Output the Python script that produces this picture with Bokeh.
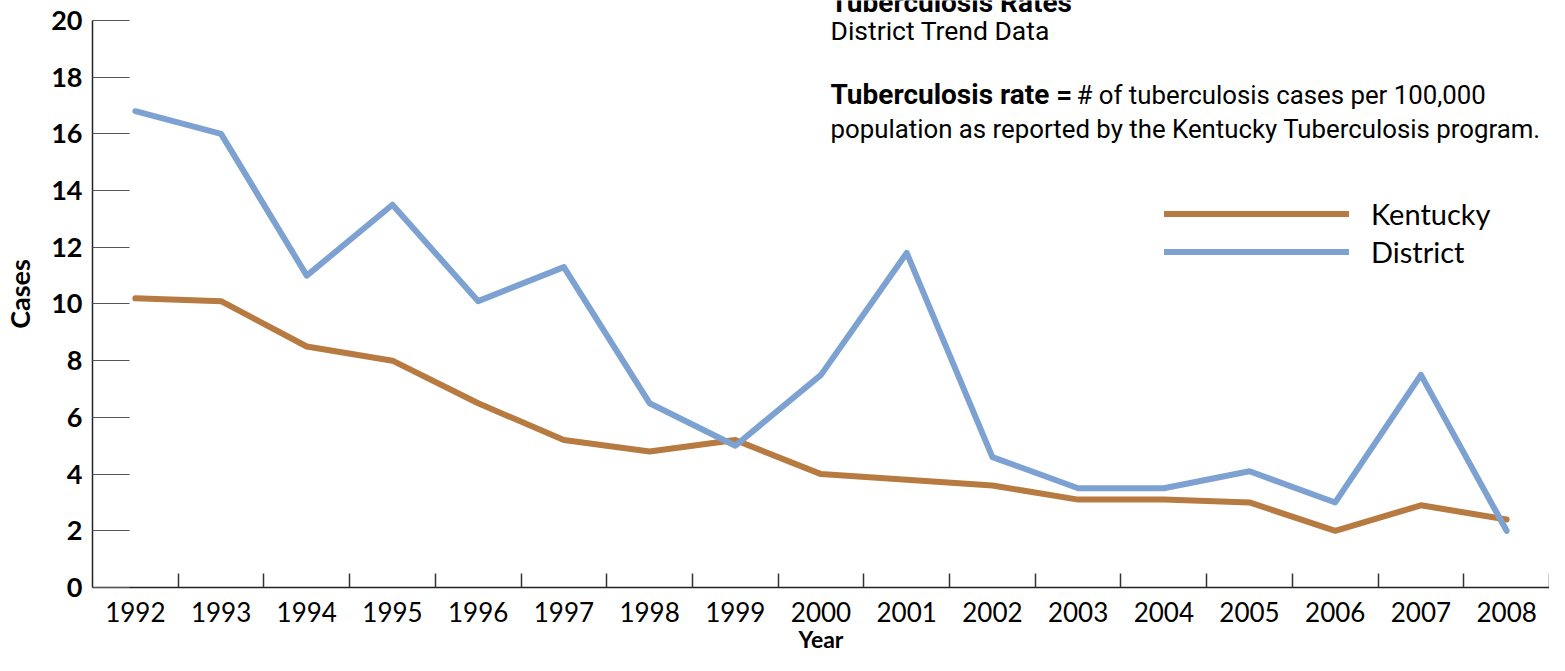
from bokeh.plotting import figure
from bokeh.models import (LinearAxis, FixedTicker, SingleIntervalTicker, Range1d,
                          Label, Legend, LegendItem, ColumnDataSource)
from bokeh.embed import file_html
from bokeh.resources import INLINE

years = ["1992", "1993", "1994", "1995", "1996", "1997", "1998", "1999", "2000",
         "2001", "2002", "2003", "2004", "2005", "2006", "2007", "2008"]
kentucky = [10.2, 10.1, 8.5, 8.0, 6.5, 5.2, 4.8, 5.2, 4.0, 3.8, 3.6, 3.1, 3.1, 3.0, 2.0, 2.9, 2.4]
district = [16.8, 16.0, 11.0, 13.5, 10.1, 11.3, 6.5, 5.0, 7.5, 11.8, 4.6, 3.5, 3.5, 4.1, 3.0, 7.5, 2.0]
y_max = 20

BROWN = "#B77B42"
BLUE = "#7DA2D2"
TICK_FONT = "Lato"
TEXT_FONT = "Roboto"

n = len(years)
xpos = [i + 0.5 for i in range(n)]
src = ColumnDataSource(dict(x=xpos, year=years, ky=kentucky, dist=district))

# frame spans the full top of the canvas so the header text is not clipped;
# the value axis itself stops at y_max (20 px below the canvas top)
H, TOP, BOTTOM = 655, 20, 67
plot_h = H - BOTTOM
y_end = y_max * plot_h / (plot_h - TOP)

p = figure(width=1549, height=H, output_backend="svg", toolbar_location=None,
           x_range=Range1d(0, n), y_range=Range1d(0, y_end),
           x_axis_type=None, y_axis_type=None,
           min_border_left=88, min_border_right=0, min_border_top=0, min_border_bottom=BOTTOM)
p.outline_line_color = None
p.grid.visible = False
p.background_fill_color = "white"

# X axis: labels at category centers, tick marks at category boundaries
xaxis = LinearAxis(ticker=FixedTicker(ticks=xpos, minor_ticks=list(range(1, n + 1))))
xaxis.major_label_overrides = {xv: y for xv, y in zip(xpos, years)}
xaxis.major_tick_line_color = None
xaxis.minor_tick_in = 14
xaxis.minor_tick_out = 0
xaxis.minor_tick_line_color = "#333333"
xaxis.minor_tick_line_width = 1.5
xaxis.axis_line_color = "#222222"
xaxis.axis_line_width = 1.5
xaxis.major_label_text_font = TICK_FONT
xaxis.major_label_text_font_size = "26px"
xaxis.major_label_text_color = "black"
xaxis.major_label_standoff = 8
xaxis.axis_label = "Year"
xaxis.axis_label_text_font = TICK_FONT
xaxis.axis_label_text_font_style = "bold"
xaxis.axis_label_text_font_size = "23px"
xaxis.axis_label_text_color = "black"
xaxis.axis_label_standoff = 0
p.add_layout(xaxis, "below")

# Y axis
yaxis = LinearAxis(ticker=SingleIntervalTicker(interval=2, num_minor_ticks=0), bounds=(0, y_max))
yaxis.major_tick_in = 37
yaxis.major_tick_out = 0
yaxis.major_tick_line_color = "#555555"
yaxis.major_tick_line_width = 1.2
yaxis.minor_tick_line_color = None
yaxis.axis_line_color = "#222222"
yaxis.axis_line_width = 1.5
yaxis.major_label_text_font = TICK_FONT
yaxis.major_label_text_font_style = "bold"
yaxis.major_label_text_font_size = "27px"
yaxis.major_label_text_color = "black"
yaxis.major_label_standoff = 10
yaxis.axis_label = "Cases"
yaxis.axis_label_text_font = TICK_FONT
yaxis.axis_label_text_font_style = "bold"
yaxis.axis_label_text_font_size = "27px"
yaxis.axis_label_text_color = "black"
yaxis.axis_label_standoff = 12
p.add_layout(yaxis, "left")

r_ky = p.line("x", "ky", source=src, line_color=BROWN, line_width=6,
              line_join="round", line_cap="round")
r_di = p.line("x", "dist", source=src, line_color=BLUE, line_width=6,
              line_join="round", line_cap="round")

legend = Legend(items=[LegendItem(label="Kentucky", renderers=[r_ky]),
                       LegendItem(label="District", renderers=[r_di])],
                location=(1072, 318), orientation="vertical",
                glyph_width=185, glyph_height=35, label_height=35,
                label_standoff=22, spacing=3, padding=0, margin=0,
                border_line_color=None, background_fill_alpha=0,
                label_text_font=TICK_FONT, label_text_font_size="29px",
                label_text_color="black")
p.add_layout(legend, "center")

def add_label(text, x, y, size, bold=False, font=TEXT_FONT, align="left"):
    p.add_layout(Label(x=x, y=y, x_units="screen", y_units="screen", text=text,
                       text_font=font, text_font_size=size,
                       text_font_style="bold" if bold else "normal",
                       text_color="black", text_baseline="alphabetic",
                       text_align=align))

add_label("Tuberculosis Rates", 738, 585, "28px", bold=True)
add_label("District Trend Data", 738, 557, "26.5px")
add_label("Tuberculosis rate =", 738, 493, "28px", bold=True)
add_label("# of tuberculosis cases per 100,000", 984, 493, "25.8px")
add_label("population as reported by the Kentucky Tuberculosis program.", 738, 459, "25.8px")

open("out.html", "w").write(file_html(p, INLINE))
